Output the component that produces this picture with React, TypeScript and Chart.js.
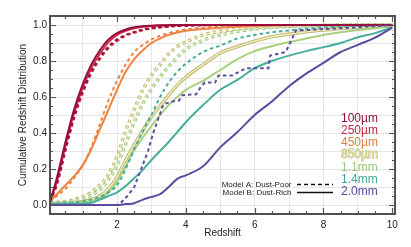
import React, { useEffect, useRef } from 'react';
import { Chart, registerables } from 'chart.js';

Chart.register(...registerables);

// Redshift grid shared by the smooth curves
const Z = [0.05, 0.25, 0.5, 0.75, 1.0, 1.25, 1.5, 1.75, 2.0, 2.25, 2.5, 2.75, 3.0, 3.25, 3.5, 3.75, 4.0, 4.5, 5.0, 5.5, 6.0, 6.5, 7.0, 7.5, 8.0, 8.5, 9.0, 9.5, 10.0];

// Model B: Dust-Rich (solid)
const rich100 = [0.02, 0.15, 0.35, 0.53, 0.67, 0.78, 0.86, 0.92, 0.955, 0.975, 0.987, 0.993, 0.996, 0.998, 0.999, 1, 1, 1, 1, 1, 1, 1, 1, 1, 1, 1, 1, 1, 1];
const rich250 = [0.02, 0.13, 0.33, 0.51, 0.65, 0.76, 0.84, 0.905, 0.945, 0.968, 0.982, 0.99, 0.995, 0.997, 0.998, 0.999, 1, 1, 1, 1, 1, 1, 1, 1, 1, 1, 1, 1, 1];
const rich450 = [0.02, 0.06, 0.11, 0.16, 0.22, 0.31, 0.42, 0.53, 0.64, 0.74, 0.81, 0.86, 0.9, 0.925, 0.945, 0.958, 0.968, 0.978, 0.985, 0.99, 0.994, 0.997, 0.999, 1, 1, 1, 1, 1, 1];
const rich850 = [0.01, 0.01, 0.012, 0.015, 0.02, 0.03, 0.05, 0.09, 0.155, 0.25, 0.335, 0.415, 0.49, 0.55, 0.61, 0.665, 0.71, 0.78, 0.845, 0.88, 0.91, 0.935, 0.95, 0.962, 0.972, 0.98, 0.986, 0.991, 0.996];
const rich1100 = [0.01, 0.01, 0.01, 0.012, 0.015, 0.022, 0.035, 0.07, 0.13, 0.215, 0.305, 0.375, 0.44, 0.5, 0.555, 0.6, 0.64, 0.69, 0.75, 0.81, 0.855, 0.882, 0.905, 0.925, 0.945, 0.96, 0.972, 0.982, 0.994];
const rich1400 = [0.005, 0.005, 0.005, 0.005, 0.007, 0.012, 0.03, 0.05, 0.07, 0.105, 0.15, 0.195, 0.25, 0.3, 0.35, 0.405, 0.46, 0.555, 0.64, 0.695, 0.76, 0.8, 0.83, 0.855, 0.877, 0.9, 0.932, 0.955, 0.988];
const rich2000 = [0, 0, 0, 0, 0, 0, 0, 0, 0, 0.005, 0.01, 0.03, 0.045, 0.06, 0.1, 0.145, 0.165, 0.215, 0.32, 0.405, 0.5, 0.575, 0.66, 0.73, 0.79, 0.85, 0.89, 0.93, 0.985];

// Model A: Dust-Poor (dashed)
const poor100 = [0.02, 0.12, 0.31, 0.49, 0.63, 0.74, 0.82, 0.88, 0.92, 0.945, 0.962, 0.975, 0.983, 0.988, 0.992, 0.995, 0.997, 0.999, 1, 1, 1, 1, 1, 1, 1, 1, 1, 1, 1];
const poor250 = [0.02, 0.11, 0.3, 0.48, 0.62, 0.73, 0.81, 0.87, 0.91, 0.94, 0.957, 0.97, 0.98, 0.986, 0.99, 0.993, 0.995, 0.998, 1, 1, 1, 1, 1, 1, 1, 1, 1, 1, 1];
const poor450 = [0.02, 0.05, 0.09, 0.15, 0.22, 0.32, 0.45, 0.58, 0.69, 0.78, 0.85, 0.89, 0.92, 0.94, 0.955, 0.967, 0.975, 0.985, 0.992, 0.996, 0.998, 1, 1, 1, 1, 1, 1, 1, 1];
const poor850 = [0.01, 0.015, 0.02, 0.03, 0.045, 0.07, 0.11, 0.17, 0.27, 0.41, 0.53, 0.64, 0.72, 0.78, 0.84, 0.88, 0.905, 0.945, 0.965, 0.978, 0.986, 0.99, 0.994, 0.996, 0.998, 1, 1, 1, 1];
const poor1100 = [0.01, 0.012, 0.015, 0.025, 0.035, 0.055, 0.085, 0.14, 0.22, 0.34, 0.46, 0.565, 0.645, 0.71, 0.77, 0.82, 0.865, 0.915, 0.945, 0.965, 0.978, 0.986, 0.992, 0.995, 0.997, 0.998, 0.999, 1, 1];
const poor1400 = [0.01, 0.01, 0.012, 0.015, 0.02, 0.03, 0.045, 0.07, 0.11, 0.2, 0.31, 0.41, 0.5, 0.6, 0.68, 0.74, 0.785, 0.85, 0.886, 0.925, 0.945, 0.96, 0.97, 0.98, 0.987, 0.992, 0.995, 0.998, 1];
// 2.0mm dust-poor is step-like, with its own redshift sampling
const poor2000Z = [0.05, 2.0, 2.1, 2.3, 2.5, 2.7, 2.9, 3.05, 3.2, 3.35, 3.6, 3.8, 3.9, 4.3, 4.45, 4.55, 4.85, 4.95, 5.35, 5.75, 6.4, 6.45, 6.9, 7.03, 7.2, 8.8, 10.0];
const poor2000 = [0, 0, 0.01, 0.05, 0.1, 0.2, 0.3, 0.4, 0.48, 0.56, 0.575, 0.58, 0.61, 0.615, 0.66, 0.68, 0.68, 0.72, 0.72, 0.76, 0.76, 0.83, 0.85, 0.9, 0.97, 0.985, 1.0];

const bandLabels = ['100\u00b5m', '250\u00b5m', '450\u00b5m', '850\u00b5m', '1.1mm', '1.4mm', '2.0mm'];
const bandColors = ['#9A0E3E', '#CF2E48', '#EE8442', '#F2EFB4', '#A8D17F', '#46AE9B', '#5B4C9F'];
const bandTextColors = ['#8E1038', '#C1263E', '#E0803A', '#E4E1A0', '#9BC97A', '#3AA697', '#574A9C'];
const outlineColor = '#BDB97C';

const xLabelTicks = [2, 4, 6, 8, 10];
const yLabelTicks = [0, 0.2, 0.4, 0.6, 0.8, 1.0];

const FONT = "'Liberation Sans', Arial, Helvetica, sans-serif";
const DASH = [3.5, 3];

function pts(zs: number[], vs: number[]) {
  return zs.map((z, i) => ({ x: z, y: vs[i] }));
}

function line(zs: number[], vs: number[], color: string, dashed: boolean, width = 2, extra: any = {}) {
  return {
    data: pts(zs, vs),
    borderColor: color,
    borderWidth: width,
    borderDash: dashed ? DASH : [],
    pointRadius: 0,
    fill: false,
    cubicInterpolationMode: 'monotone',
    ...extra,
  };
}

const decorPlugin = {
  id: 'decor',
  afterDraw(chart: any) {
    const { ctx, chartArea: a } = chart;
    const xs = chart.scales.x;
    const ys = chart.scales.y;
    ctx.save();
    // inward tick marks on all four sides
    ctx.strokeStyle = '#555';
    ctx.lineWidth = 1.2;
    ctx.beginPath();
    for (let i = 1; i <= 20; i++) {
      const v = i * 0.5;
      const px = Math.round(xs.getPixelForValue(v)) + 0.5;
      const len = i % 4 === 0 ? 6 : 3;
      ctx.moveTo(px, a.bottom);
      ctx.lineTo(px, a.bottom - len);
      ctx.moveTo(px, a.top);
      ctx.lineTo(px, a.top + len);
    }
    for (let i = 0; i <= 20; i++) {
      const v = i * 0.05;
      const py = Math.round(ys.getPixelForValue(v)) + 0.5;
      const len = i % 4 === 0 ? 6 : 3;
      ctx.moveTo(a.left, py);
      ctx.lineTo(a.left + len, py);
      ctx.moveTo(a.right, py);
      ctx.lineTo(a.right - len, py);
    }
    ctx.stroke();
    // frame
    ctx.lineWidth = 2;
    ctx.strokeStyle = '#505050';
    ctx.strokeRect(a.left, a.top, a.right - a.left, a.bottom - a.top);

    // axis titles
    ctx.fillStyle = '#222';
    ctx.font = `10px ${FONT}`;
    ctx.textAlign = 'center';
    ctx.textBaseline = 'middle';
    ctx.fillText('Redshift', (a.left + a.right) / 2, 233);
    ctx.save();
    ctx.translate(23, (a.top + a.bottom) / 2);
    ctx.rotate(-Math.PI / 2);
    ctx.fillText('Cumulative Redshift Distribution', 0, 0);
    ctx.restore();

    // band legend
    ctx.font = `12px ${FONT}`;
    ctx.textAlign = 'left';
    bandLabels.forEach((t, i) => {
      const y = 118.5 + i * 12.2;
      if (i === 3) {
        ctx.strokeStyle = '#B3B07A';
        ctx.lineWidth = 0.8;
        ctx.strokeText(t, 341, y);
      }
      ctx.fillStyle = bandTextColors[i];
      ctx.fillText(t, 341, y);
    });

    // model legend
    ctx.font = `8px ${FONT}`;
    ctx.textAlign = 'right';
    ctx.fillStyle = '#222';
    ctx.fillText('Model A: Dust-Poor', 291.5, 184.3);
    ctx.fillText('Model B: Dust-Rich', 291.5, 192.7);
    ctx.strokeStyle = '#111';
    ctx.lineWidth = 1.4;
    ctx.setLineDash([4, 3]);
    ctx.beginPath();
    ctx.moveTo(297, 184.5);
    ctx.lineTo(333, 184.5);
    ctx.stroke();
    ctx.setLineDash([]);
    ctx.beginPath();
    ctx.moveTo(297, 192.5);
    ctx.lineTo(333, 192.5);
    ctx.stroke();
    ctx.restore();
  },
};

export default function App() {
  const ref = useRef<HTMLCanvasElement>(null);
  useEffect(() => {
    if (!ref.current) return;
    const datasets: any[] = [
      line(poor2000Z, poor2000, bandColors[6], true, 2, { cubicInterpolationMode: 'default', tension: 0 }),
      line(Z, rich2000, bandColors[6], false),
      line(Z, poor100, bandColors[0], true),
      line(Z, rich100, bandColors[0], false),
      line(Z, poor250, bandColors[1], true),
      line(Z, rich250, bandColors[1], false),
      line(Z, poor450, bandColors[2], true),
      line(Z, rich450, bandColors[2], false),
      line(Z, poor1400, bandColors[5], true),
      line(Z, rich1400, bandColors[5], false),
      line(Z, poor1100, '#DDEFC2', true, 1.3),
      line(Z, poor1100, '#A3C985', true, 3.4),
      line(Z, rich1100, bandColors[4], false),
      line(Z, poor850, bandColors[3], true, 1.3),
      line(Z, poor850, outlineColor, true, 3.4),
      line(Z, rich850, bandColors[3], false, 1.4),
      line(Z, rich850, outlineColor, false, 3.4),
    ];
    const chart = new Chart(ref.current, {
      type: 'line',
      data: { datasets },
      options: {
        animation: false,
        responsive: false,
        devicePixelRatio: 1,
        layout: { padding: { top: 16, right: 16, left: 0, bottom: 0 } },
        plugins: { legend: { display: false }, tooltip: { enabled: false } },
        scales: {
          x: {
            type: 'linear',
            min: 0.05,
            max: 10.08,
            afterBuildTicks: (s: any) => {
              const t = [];
              for (let i = 1; i <= 20; i++) t.push({ value: i * 0.5 });
              s.ticks = t;
            },
            afterFit: (s: any) => {
              s.height = 33;
            },
            border: { display: false },
            grid: {
              drawTicks: false,
              lineWidth: 1,
              color: (c: any) => (c.tick && Math.abs(c.tick.value - Math.round(c.tick.value)) < 1e-6 ? '#E6E6E6' : 'rgba(0,0,0,0)'),
            },
            ticks: {
              autoSkip: false,
              maxRotation: 0,
              padding: 5,
              color: '#222',
              font: { family: FONT, size: 10 },
              callback: (v: any) => {
                const n = Number(v);
                return xLabelTicks.some((t) => Math.abs(t - n) < 1e-6) ? String(Math.round(n)) : '';
              },
            },
          },
          y: {
            type: 'linear',
            min: -0.05,
            max: 1.05,
            afterBuildTicks: (s: any) => {
              const t = [];
              for (let i = 0; i <= 20; i++) t.push({ value: i * 0.05 });
              s.ticks = t;
            },
            afterFit: (s: any) => {
              s.width = 50;
            },
            border: { display: false },
            grid: {
              drawTicks: false,
              lineWidth: 1,
              color: (c: any) => (c.tick && Math.round(c.tick.value * 100) % 10 === 0 ? '#E6E6E6' : 'rgba(0,0,0,0)'),
            },
            ticks: {
              autoSkip: false,
              padding: 3,
              color: '#222',
              font: { family: FONT, size: 10 },
              callback: (v: any) => {
                const n = Number(v);
                const hit = yLabelTicks.find((t) => Math.abs(t - n) < 1e-6);
                return hit === undefined ? '' : hit.toFixed(1);
              },
            },
          },
        },
      },
      plugins: [decorPlugin],
    });
    return () => chart.destroy();
  }, []);
  return (
    <div style={{ position: 'fixed', left: 0, top: 0, width: 411, height: 247, background: '#fff' }}>
      <canvas ref={ref} width={411} height={247} style={{ display: 'block' }} />
    </div>
  );
}
